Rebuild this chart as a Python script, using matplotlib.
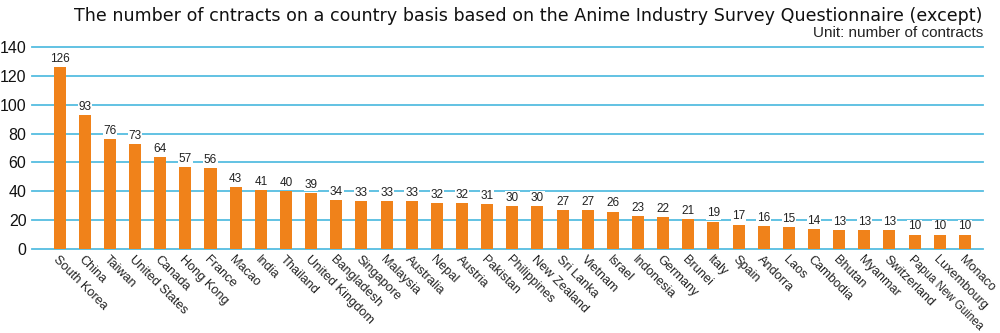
import matplotlib.pyplot as plt

countries = ['South Korea', 'China', 'Taiwan', 'United States', 'Canada', 'Hong Kong',
             'France', 'Macao', 'India', 'Thailand', 'United Kingdom', 'Bangladesh',
             'Singapore', 'Malaysia', 'Australia', 'Nepal', 'Austria', 'Pakistan',
             'Philippines', 'New Zealand', 'Sri Lanka', 'Vietnam', 'Israel', 'Indonesia',
             'Germany', 'Brunei', 'Italy', 'Spain', 'Andorra', 'Laos', 'Cambodia',
             'Bhutan', 'Myanmar', 'Switzerland', 'Papua New Guinea', 'Luxembourg', 'Monaco']
contracts = [126, 93, 76, 73, 64, 57, 56, 43, 41, 40, 39, 34, 33, 33, 33, 32, 32, 31,
             30, 30, 27, 27, 26, 23, 22, 21, 19, 17, 16, 15, 14, 13, 13, 13, 10, 10, 10]
y_ticks = [0, 20, 40, 60, 80, 100, 120, 140]

plt.rcParams['font.family'] = ['Liberation Sans', 'DejaVu Sans']

fig = plt.figure(figsize=(10, 3.33), dpi=100)
ax = fig.add_axes([0.032, 0.252, 0.951, 0.607])

x = list(range(len(countries)))
ax.bar(x, contracts, width=0.48, color='#f0821a', zorder=2)
for xi, v in zip(x, contracts):
    ax.text(xi, v + 1.5, str(v), ha='center', va='bottom', fontsize=8.5,
            color='#222222', zorder=3,
            bbox=dict(facecolor='white', edgecolor='none', pad=0.5))

ax.set_ylim(0, 140)
ax.set_xlim(-1.1, len(countries) - 0.28)
ax.set_yticks(y_ticks)
ax.set_yticklabels([str(t) for t in y_ticks], fontsize=11.5, color='#111111')
ax.yaxis.grid(True, color='#55bde0', linewidth=1.3, zorder=0)
for gl in ax.get_ygridlines():
    gl.set_clip_on(False)
ax.set_axisbelow(True)
for s in ax.spines.values():
    s.set_visible(False)
ax.tick_params(axis='both', length=0)
ax.tick_params(axis='y', pad=4)

ax.set_xticks(x)
labels = ax.set_xticklabels(countries, rotation=-45, ha='left', va='top',
                            rotation_mode='anchor', fontsize=9.2, color='#222222')
# longest name would run off the bottom edge
labels[countries.index('Papua New Guinea')].set_fontsize(8.3)
ax.tick_params(axis='x', pad=3)

fig.text(0.528, 0.952, 'The number of cntracts on a country basis based on the Anime Industry Survey Questionnaire (except)',
         ha='center', va='center', fontsize=12.6, color='#111111', family='DejaVu Sans')
fig.text(0.983, 0.90, 'Unit: number of contracts', ha='right', va='center',
         fontsize=11, color='#222222')

fig.savefig('out.png', dpi=100)
